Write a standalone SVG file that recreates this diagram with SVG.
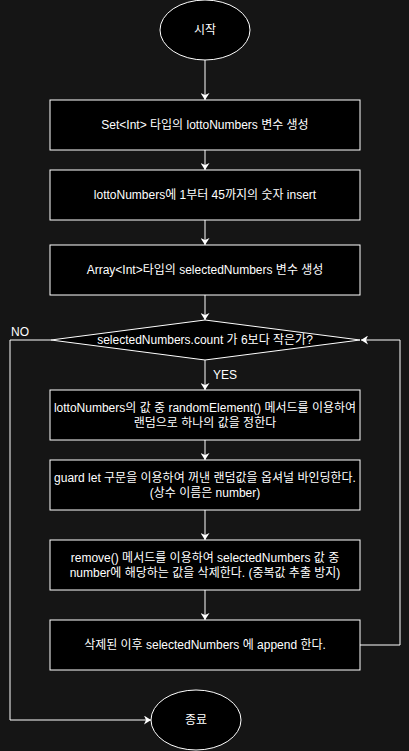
<svg xmlns="http://www.w3.org/2000/svg" width="409" height="751" viewBox="0 0 409 751">
<style>
.bg{fill:#151515}
.node{fill:#000;stroke:#fff;stroke-width:1}
.t{font-family:"Liberation Sans","Noto Sans CJK KR",sans-serif;font-size:12px;fill:#fff;text-anchor:middle;dominant-baseline:central}
.tl{font-family:"Liberation Sans","Noto Sans CJK KR",sans-serif;font-size:12px;fill:#fff;dominant-baseline:central}
.edge{fill:none;stroke:#fff;stroke-width:1}
</style>
<defs>
<marker id="arr" viewBox="0 0 7 9" refX="7" refY="4.5" markerWidth="7" markerHeight="9" markerUnits="userSpaceOnUse" orient="auto">
<path d="M0,0 L7,4.5 L0,9 L2,4.5 Z" fill="#fff"/>
</marker>
</defs>
<rect class="bg" x="0" y="0" width="409" height="751"/>
<g id="connectors">
<path class="edge" d="M205,60 L205,100" marker-end="url(#arr)"/>
<path class="edge" d="M205,150 L205,170" marker-end="url(#arr)"/>
<path class="edge" d="M205,220 L205,245" marker-end="url(#arr)"/>
<path class="edge" d="M205,295 L205,320" marker-end="url(#arr)"/>
<path class="edge" d="M205,360 L205,390" marker-end="url(#arr)"/>
<path class="edge" d="M205,440 L205,460" marker-end="url(#arr)"/>
<path class="edge" d="M205,510 L205,540" marker-end="url(#arr)"/>
<path class="edge" d="M205,590 L205,620" marker-end="url(#arr)"/>
<path class="edge" d="M360,645 L400,645 L400,340 L361,340" marker-end="url(#arr)"/>
<path class="edge" d="M51,340 L10,340 L10,720 L151,720" marker-end="url(#arr)"/>
<text class="tl" x="11" y="332">NO</text>
<text class="tl" x="213" y="375">YES</text>
</g>
<g id="start">
<ellipse class="node" cx="205" cy="30" rx="45" ry="30"/>
<text class="t" x="205" y="30">시작</text>
</g>
<g id="box1">
<rect class="node" x="50" y="100" width="310" height="50"/>
<text class="t" x="205" y="125">Set&lt;Int&gt; 타입의 lottoNumbers 변수 생성</text>
</g>
<g id="box2">
<rect class="node" x="50" y="170" width="310" height="50"/>
<text class="t" x="205" y="195">lottoNumbers에 1부터 45까지의 숫자 insert</text>
</g>
<g id="box3">
<rect class="node" x="50" y="245" width="310" height="50"/>
<text class="t" x="205" y="270">Array&lt;Int&gt;타입의 selectedNumbers 변수 생성</text>
</g>
<g id="decision">
<polygon class="node" points="205,320 360,340 205,360 51,340"/>
<text class="t" x="205" y="340">selectedNumbers.count 가 6보다 작은가?</text>
</g>
<g id="box4">
<rect class="node" x="50" y="390" width="310" height="50"/>
<text class="t" x="205" y="408">lottoNumbers의 값 중 randomElement() 메서드를 이용하여</text>
<text class="t" x="205" y="423">랜덤으로 하나의 값을 정한다</text>
</g>
<g id="box5">
<rect class="node" x="50" y="460" width="310" height="50"/>
<text class="t" x="205" y="478">guard let 구문을 이용하여 꺼낸 랜덤값을 옵셔널 바인딩한다.</text>
<text class="t" x="205" y="493">(상수 이름은 number)</text>
</g>
<g id="box6">
<rect class="node" x="50" y="540" width="310" height="50"/>
<text class="t" x="205" y="558">remove() 메서드를 이용하여 selectedNumbers 값 중</text>
<text class="t" x="205" y="573">number에 해당하는 값을 삭제한다. (중복값 추출 방지)</text>
</g>
<g id="box7">
<rect class="node" x="50" y="620" width="310" height="50"/>
<text class="t" x="205" y="645">삭제된 이후 selectedNumbers 에 append 한다.</text>
</g>
<g id="end">
<ellipse class="node" cx="196" cy="720" rx="45" ry="30"/>
<text class="t" x="196" y="720">종료</text>
</g>
</svg>
